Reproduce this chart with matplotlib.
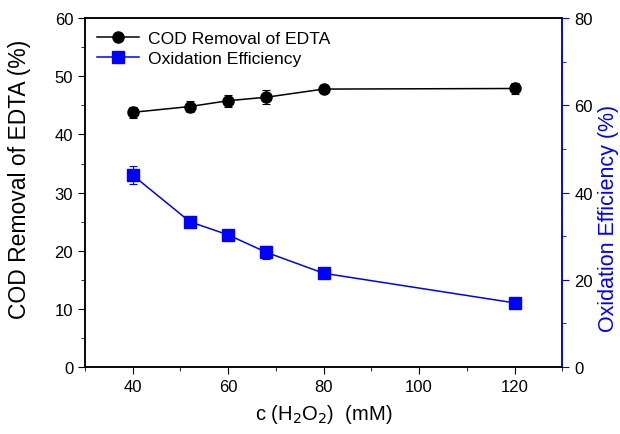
import matplotlib
matplotlib.use('Agg')
import matplotlib.pyplot as plt
from matplotlib.lines import Line2D
from matplotlib.ticker import MultipleLocator

plt.rcParams['font.family'] = ['Liberation Sans', 'DejaVu Sans']

conc = [40, 52, 60, 68, 80, 120]
cod = [43.8, 44.8, 45.8, 46.4, 47.8, 47.9]
cod_err = [1.0, 1.0, 1.0, 1.2, 0.6, 1.0]
oxi = [44.0, 33.3, 30.3, 26.3, 21.5, 14.7]
oxi_err = [2.0, 1.2, 0.8, 1.5, 1.2, 1.0]

blue = '#0000ff'

fig = plt.figure(figsize=(6.2, 4.35), dpi=100)
ax = fig.add_axes([0.137, 0.154, 0.770, 0.802])
ax2 = ax.twinx()

ax.errorbar(conc, cod, yerr=cod_err, color='black', marker='o', markersize=8,
            lw=1.1, capsize=3, elinewidth=0.8, capthick=0.8)
ax2.errorbar(conc, oxi, yerr=oxi_err, color=blue, marker='s', markersize=8,
             lw=1.1, capsize=3, elinewidth=0.8, capthick=0.8)

ax.set_xlim(30, 130)
ax.set_ylim(0, 60)
ax2.set_ylim(0, 80)

ax.xaxis.set_major_locator(MultipleLocator(20))
ax.xaxis.set_minor_locator(MultipleLocator(10))
ax.yaxis.set_major_locator(MultipleLocator(10))
ax.yaxis.set_minor_locator(MultipleLocator(5))
ax2.yaxis.set_major_locator(MultipleLocator(20))
ax2.yaxis.set_minor_locator(MultipleLocator(10))

ax.tick_params(which='both', direction='out', labelsize=12, right=False, top=False)
ax.tick_params(which='major', length=5)
ax.tick_params(which='minor', length=3)
ax2.tick_params(which='both', direction='out', colors=blue, labelcolor='black', labelsize=12)
ax2.tick_params(which='major', length=5)
ax2.tick_params(which='minor', length=3)

for a in (ax, ax2):
    for s in a.spines.values():
        s.set_linewidth(1.1)
ax2.spines['right'].set_color(blue)

ax.set_xlabel('c (H$_2$O$_2$)  (mM)', fontsize=14.5, labelpad=6)
ax.set_ylabel('COD Removal of EDTA (%)', fontsize=16.5)
ax2.set_ylabel('Oxidation Efficiency (%)', fontsize=15.5, color=blue)
ax.yaxis.set_label_coords(-0.112, 0.54)
ax2.yaxis.set_label_coords(1.074, 0.43)

h1 = Line2D([], [], color='black', marker='o', markersize=8, lw=1.1)
h2 = Line2D([], [], color=blue, marker='s', markersize=8, lw=1.1)
ax.legend([h1, h2], ['COD Removal of EDTA', 'Oxidation Efficiency'], loc='upper left',
          frameon=False, fontsize=12.6, handlelength=2.4, handletextpad=0.5,
          borderaxespad=0.3, labelspacing=0.3)

fig.savefig('out.png', dpi=100)
